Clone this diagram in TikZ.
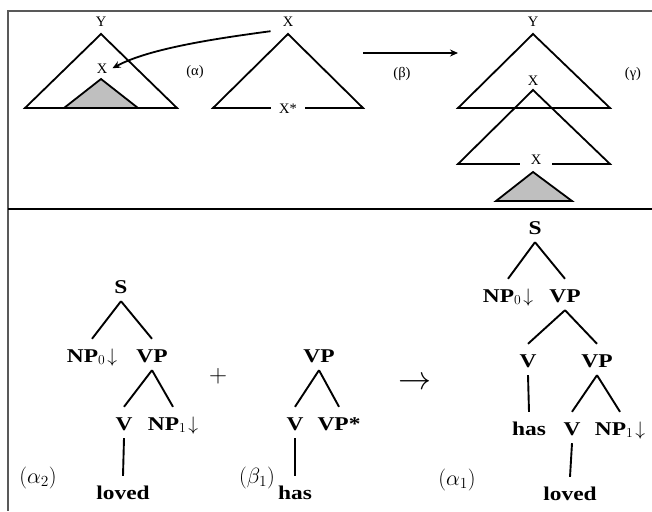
\RequirePackage{fix-cm}
\documentclass[tikz,border=0pt]{standalone}
\usepackage{fontspec}
\setmainfont{Liberation Serif}
\newfontfamily\labfont[FakeStretch=1.2]{Liberation Serif}
\usetikzlibrary{arrows.meta}
\newcommand\treeedge[2]{\draw[edge] ([yshift=-3pt]#1.south) -- ([yshift=8pt]#2.north);}
\begin{document}
\begin{tikzpicture}[x=1pt,y=-1pt,
  frame/.style={draw=black!65, line width=1.4pt},
  tri/.style={draw=black, line width=1.8pt, line join=miter},
  shade/.style={fill=black!25},
  small/.style={font=\fontsize{14.5}{15}\selectfont, anchor=base, inner sep=1pt},
  lab/.style={font=\fontsize{19.5}{20}\selectfont\labfont\bfseries, anchor=base, text height=14pt, text depth=4pt, inner sep=1pt},
  tag/.style={font=\fontsize{22}{22}\selectfont, anchor=base, inner sep=1pt},
  edge/.style={line width=1.9pt},
  arr/.style={line width=1.8pt, -{Stealth[length=8pt,width=7pt]}}
]
\useasboundingbox (0,0) rectangle (652,511);
% frame
\draw[frame] (652,11) -- (8,11) -- (8,511);
\draw[line width=1.3pt] (8,209) -- (652,209);
% top panel shapes
\draw[tri] (25,108) -- (101,34) -- (177,108) -- cycle;
\draw[tri,shade] (64,108) -- (101,79) -- (138,108) -- cycle;
\draw[tri] (213,108) -- (288,34) -- (363,108) -- cycle;
\draw[tri] (458,108) -- (533,34) -- (610,108) -- cycle;
\draw[tri] (458,164) -- (533,90) -- (610,164) -- cycle;
\draw[tri,shade] (496,201) -- (533,172) -- (572,201) -- cycle;
% top panel labels
\node[small] (Ya) at (101,27) {Y};
\node[small] (Xa) at (102,73) {X};
\node[small] (la) at (195,75) {(α)};
\node[small] (Xb) at (288,27) {X};
\node[small,fill=white,inner xsep=8pt] (Xs) at (288,113) {X*};
\node[small] (lb) at (402,77) {(β)};
\node[small] (Yc) at (533,27) {Y};
\node[small] (Xc) at (533,85) {X};
\node[small,fill=white,inner xsep=11pt,inner ysep=2pt] (Xd) at (536,164) {X};
\node[small] (lc) at (633,77) {(γ)};
% top panel arrows
\draw[arr] ([xshift=-11pt,yshift=-3pt]Xb.south west) .. controls (220,38) and (150,48) .. ([xshift=4pt]Xa.east);
\coordinate (bs) at (363,53);
\coordinate (be) at (458,53);
\draw[arr] (bs) -- (be);
% alpha2 tree
\node[lab] (S1) at (121,293) {S};
\node[lab] (NP01) at (92,362) {NP$_0\!\downarrow$};
\node[lab] (VP1) at (152,362) {VP};
\node[lab] (V1) at (124,430) {V};
\node[lab] (NP11) at (173,430) {NP$_1\!\downarrow$};
\node[lab] (lov1) at (123,499) {loved};
\treeedge{S1}{NP01}
\treeedge{S1}{VP1}
\treeedge{VP1}{V1}
\treeedge{VP1}{NP11}
\treeedge{V1}{lov1}
% beta1 tree
\node[lab] (VP2) at (319,362) {VP};
\node[lab] (V2) at (295,430) {V};
\node[lab] (VPs) at (339,430) {VP*};
\node[lab] (has1) at (295,499) {has};
\treeedge{VP2}{V2}
\treeedge{VP2}{VPs}
\treeedge{V2}{has1}
% alpha1 tree
\node[lab] (S3) at (535,234) {S};
\node[lab] (NP03) at (508,302) {NP$_0\!\downarrow$};
\node[lab] (VP3) at (565,302) {VP};
\node[lab] (V3) at (528,367) {V};
\node[lab] (VP4) at (597,367) {VP};
\node[lab] (has3) at (529,435) {has};
\node[lab] (V4) at (572,435) {V};
\node[lab] (NP13) at (620,435) {NP$_1\!\downarrow$};
\node[lab] (lov3) at (570,500) {loved};
\treeedge{S3}{NP03}
\treeedge{S3}{VP3}
\treeedge{VP3}{V3}
\treeedge{VP3}{VP4}
\treeedge{V3}{has3}
\treeedge{VP4}{V4}
\treeedge{VP4}{NP13}
\treeedge{V4}{lov3}
% tags and operators
\node[tag] (a2) at (38,483) {$(\alpha_2)$};
\node[tag] (b1) at (257,483) {$(\beta_1)$};
\node[tag] (a1) at (457,485) {$(\alpha_1)$};
\node[font=\fontsize{25}{25}\selectfont, inner sep=0pt] (plus) at (218,376) {$+$};
\node[font=\fontsize{33}{33}\selectfont, inner sep=0pt] (to) at (415,383) {$\rightarrow$};
\end{tikzpicture}
\end{document}
